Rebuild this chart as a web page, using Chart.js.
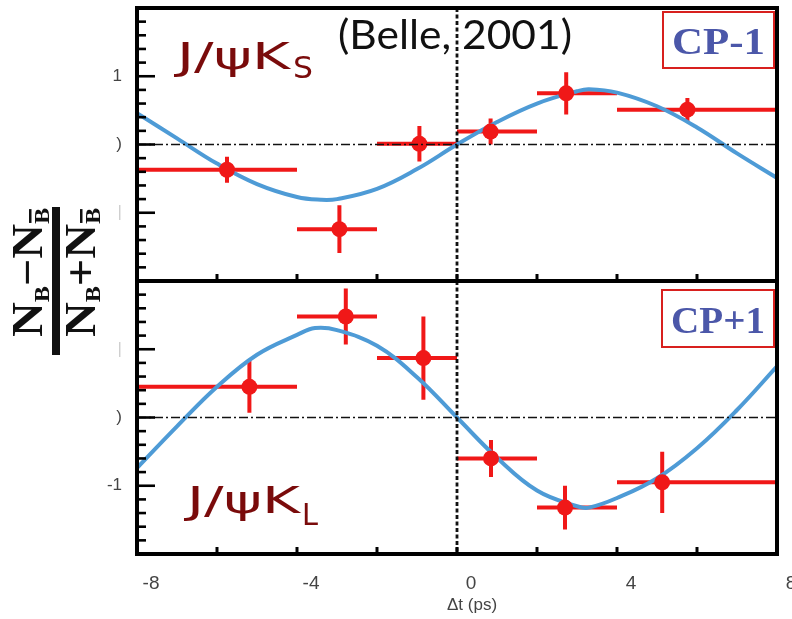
<!DOCTYPE html>
<html>
<head>
<meta charset="utf-8">
<title>Belle 2001 - CP asymmetry</title>
<script src="https://cdn.jsdelivr.net/npm/chart.js@4.4.1/dist/chart.umd.min.js"></script>
<style>
  html, body { margin: 0; padding: 0; background: #fff; }
  #chart { display: block; }
</style>
</head>
<body>
<canvas id="chart" width="792" height="619"></canvas>
<script>
// fitted curves (dt in ps)
var fitTimeTop = [-8, -7, -6, -5, -4, -3.4, -3, -2, -1, 0, 1, 2, 3, 3.3, 4, 5, 6, 7, 8];
var fitTop     = [0.46, 0.09, -0.28, -0.58, -0.77, -0.81, -0.80, -0.65, -0.36, 0, 0.33, 0.60, 0.78, 0.81, 0.76, 0.56, 0.25, -0.13, -0.49];
var fitTimeBot = [-8, -7, -6, -5, -4, -3.55, -3, -2, -1, 0, 1, 2, 3, 3.3, 4, 5, 6, 7, 8];
var fitBot     = [-0.74, -0.13, 0.45, 0.92, 1.21, 1.31, 1.28, 1.05, 0.59, 0, -0.59, -1.07, -1.30, -1.32, -1.18, -0.89, -0.45, 0.11, 0.75];

// bins (same for both panels)
var binLo = [-8, -4, -2, 0, 2, 4];
var binHi = [-4, -2, 0, 2, 4, 8];

// J/psi K_S  (CP-1)
var ksTime = [-5.75, -2.94, -0.94, 0.84, 2.73, 5.76];
var ksAsym = [-0.37, -1.24, 0.01, 0.19, 0.75, 0.51];
var ksErr  = [0.19, 0.35, 0.26, 0.19, 0.31, 0.17];

// J/psi K_L  (CP+1)
var klTime = [-5.19, -2.78, -0.84, 0.85, 2.70, 5.13];
var klAsym = [0.45, 1.48, 0.87, -0.60, -1.32, -0.95];
var klErr  = [0.38, 0.41, 0.61, 0.27, 0.32, 0.45];

// y tick labels (the scan cuts them off on the left)
var yTickVals   = [-1, 0, 1];
var topTickText = ['|', ')', '1'];
var botTickText = ['-1', ')', '|'];

var RED = '#f01818';
var BLUE = '#4e9bd6';

function pts(xs, ys) {
  return xs.map(function (v, i) { return { x: v, y: ys[i] }; });
}

function fitText(ctx, txt, font, left, base, width, color) {
  ctx.save();
  ctx.font = font;
  ctx.fillStyle = color;
  ctx.textBaseline = 'alphabetic';
  ctx.textAlign = 'left';
  var w = ctx.measureText(txt).width;
  ctx.translate(left, base);
  ctx.scale(width / w, 1);
  ctx.fillText(txt, 0, 0);
  ctx.restore();
}

// one row of the fraction: pieces laid out one after the other
function fracRow(ctx, parts, start, base, width) {
  var total = 0;
  parts.forEach(function (p) { ctx.font = p.f; p.w = ctx.measureText(p.t).width; total += p.w; });
  ctx.save();
  ctx.translate(start, base);
  ctx.scale(width / total, 1);
  var cx = 0;
  parts.forEach(function (p) {
    ctx.font = p.f;
    ctx.fillText(p.t, cx, p.dy || 0);
    if (p.over) ctx.fillRect(cx + 1, (p.dy || 0) - p.over, p.w - 2, 2.5);
    cx += p.w;
  });
  ctx.restore();
}

function errorBars(ctx, x, y, ts, as, es) {
  ts.forEach(function (t, i) {
    var py = y.getPixelForValue(as[i]);
    var px = x.getPixelForValue(t);
    ctx.beginPath();
    ctx.moveTo(x.getPixelForValue(binLo[i]), py);
    ctx.lineTo(x.getPixelForValue(binHi[i]), py);
    ctx.moveTo(px, y.getPixelForValue(as[i] + es[i]));
    ctx.lineTo(px, y.getPixelForValue(as[i] - es[i]));
    ctx.stroke();
  });
}

function cpBox(ctx, txt, l, t, r, b) {
  ctx.save();
  ctx.strokeStyle = '#d8201e';
  ctx.lineWidth = 2;
  ctx.strokeRect(l, t, r - l, b - t);
  ctx.restore();
  fitText(ctx, txt, 'bold 38px "Liberation Serif"', l + 9, b - 14, r - l - 18, '#4b57a9');
}

var panelPlugin = {
  id: 'panels',
  beforeDatasetsDraw: function (chart) {
    var ctx = chart.ctx, x = chart.scales.x;
    ctx.save();
    ctx.beginPath();
    ctx.rect(x.left - 6, chart.chartArea.top, x.right - x.left + 6, chart.chartArea.bottom - chart.chartArea.top);
    ctx.clip();
    ctx.strokeStyle = RED;
    ctx.lineWidth = 4;
    errorBars(ctx, x, chart.scales.yTop, ksTime, ksAsym, ksErr);
    errorBars(ctx, x, chart.scales.yBot, klTime, klAsym, klErr);
    ctx.restore();
  },
  afterDatasetsDraw: function (chart) {
    var ctx = chart.ctx, x = chart.scales.x;
    var yT = chart.scales.yTop, yB = chart.scales.yBot;
    ctx.save();
    ctx.strokeStyle = '#111';
    // dash-dot zero lines
    ctx.lineWidth = 1.6;
    ctx.setLineDash([9, 3, 2, 3]);
    [yT, yB].forEach(function (y) {
      var py = y.getPixelForValue(0);
      ctx.beginPath();
      ctx.moveTo(x.left, py);
      ctx.lineTo(x.right, py);
      ctx.stroke();
    });
    // dotted line at dt = 0
    ctx.lineWidth = 2.8;
    ctx.setLineDash([4, 2.5]);
    var px = x.getPixelForValue(0);
    ctx.beginPath();
    ctx.moveTo(px, yT.top);
    ctx.lineTo(px, yB.bottom);
    ctx.stroke();
    ctx.restore();
  },
  afterDraw: function (chart) {
    var ctx = chart.ctx, x = chart.scales.x;
    var yT = chart.scales.yTop, yB = chart.scales.yBot;
    ctx.save();
    ctx.strokeStyle = '#000';
    [yT, yB].forEach(function (y) {
      // frame
      ctx.lineWidth = 4;
      ctx.strokeRect(x.left, y.top, x.right - x.left, y.bottom - y.top);
      // y ticks, minor every 0.2
      ctx.lineWidth = 2.6;
      for (var k = -9; k <= 9; k++) {
        var py = y.getPixelForValue(k / 5);
        ctx.beginPath();
        ctx.moveTo(x.left, py);
        ctx.lineTo(x.left + (k % 5 === 0 ? 18 : 9), py);
        ctx.stroke();
      }
      // x ticks on the bottom edge
      ctx.lineWidth = 3;
      for (var v = -6; v <= 6; v += 2) {
        var px = x.getPixelForValue(v);
        ctx.beginPath();
        ctx.moveTo(px, y.bottom);
        ctx.lineTo(px, y.bottom - 7);
        ctx.stroke();
      }
    });
    ctx.restore();

    // panel texts
    fitText(ctx, '(Belle, 2001)', '41px Lato', 338, 49, 234, '#111');
    fitText(ctx, 'J/\u03c8K', '37px "DejaVu Sans"', 177, 69, 113, '#7a0b0b');
    fitText(ctx, 'S', '30px "DejaVu Sans"', 293, 78, 20, '#7a0b0b');
    fitText(ctx, 'J/\u03c8K', '37px "DejaVu Sans"', 187, 513, 113, '#7a0b0b');
    fitText(ctx, 'L', '30px "DejaVu Sans"', 302, 525, 16, '#7a0b0b');
    cpBox(ctx, 'CP-1', 663, 12, 774, 68);
    cpBox(ctx, 'CP+1', 662, 290, 774, 347);

    // x axis title
    ctx.save();
    ctx.fillStyle = '#444';
    ctx.font = '17px "Liberation Sans"';
    ctx.textAlign = 'center';
    ctx.textBaseline = 'middle';
    ctx.fillText('\u0394t (ps)', 472, 605);
    ctx.restore();

    // y axis title: (N_B - N_Bbar) / (N_B + N_Bbar), rotated
    ctx.save();
    ctx.translate(56, 281);
    ctx.rotate(-Math.PI / 2);
    ctx.fillStyle = '#111';
    ctx.fillRect(-74, -4, 148, 8);
    var big = 'bold 44px "Liberation Serif"', sub = 'bold 22px "Liberation Serif"';
    fracRow(ctx, [
      { t: 'N', f: big }, { t: 'B', f: sub, dy: 7 }, { t: '\u2212', f: big },
      { t: 'N', f: big }, { t: 'B', f: sub, dy: 7, over: 20 }
    ], -56, -14, 129);
    fracRow(ctx, [
      { t: 'N', f: big }, { t: 'B', f: sub, dy: 5 }, { t: '+', f: big },
      { t: 'N', f: big }, { t: 'B', f: sub, dy: 5, over: 20 }
    ], -56, 39, 129);
    ctx.restore();
  }
};

function yScale(texts, faintVal) {
  return {
    type: 'linear',
    position: 'left',
    stack: 'panels',
    stackWeight: 1,
    min: -2,
    max: 2,
    grid: { display: false, drawTicks: false },
    border: { display: false },
    ticks: {
      stepSize: 1,
      padding: 15,
      font: { family: 'Liberation Sans', size: 17 },
      color: function (c) { return c.tick && c.tick.value === faintVal ? '#cfcfcf' : '#444'; },
      callback: function (v) {
        var i = yTickVals.indexOf(v);
        return i < 0 ? '' : texts[i];
      }
    },
    afterFit: function (s) { s.width = 137; s.paddingTop = 0; s.paddingBottom = 0; }
  };
}

var chart = new Chart(document.getElementById('chart'), {
  type: 'scatter',
  data: {
    datasets: [
      { label: 'fit CP-1', type: 'line', data: pts(fitTimeTop, fitTop), yAxisID: 'yTop',
        borderColor: BLUE, borderWidth: 4, pointRadius: 0, tension: 0.4, fill: false, order: 2 },
      { label: 'fit CP+1', type: 'line', data: pts(fitTimeBot, fitBot), yAxisID: 'yBot',
        borderColor: BLUE, borderWidth: 4, pointRadius: 0, tension: 0.4, fill: false, order: 2 },
      { label: 'J/psi K_S', data: pts(ksTime, ksAsym), yAxisID: 'yTop',
        backgroundColor: RED, pointRadius: 8, pointBorderWidth: 0, order: 1 },
      { label: 'J/psi K_L', data: pts(klTime, klAsym), yAxisID: 'yBot',
        backgroundColor: RED, pointRadius: 8, pointBorderWidth: 0, order: 1 }
    ]
  },
  options: {
    responsive: false,
    animation: false,
    layout: { padding: { top: 6, right: 15, bottom: 0, left: 0 } },
    plugins: { legend: { display: false }, tooltip: { enabled: false } },
    scales: {
      x: {
        type: 'linear',
        min: -8,
        max: 8,
        grid: { display: false, drawTicks: false },
        border: { display: false },
        ticks: { stepSize: 4, padding: 18, labelOffset: 14, color: '#444',
                 font: { family: 'Liberation Sans', size: 19 } },
        afterFit: function (s) { s.height = 65; s.paddingLeft = 0; s.paddingRight = 0; }
      },
      // in a left stack the scale listed last sits on top
      yBot: yScale(botTickText, 1),
      yTop: yScale(topTickText, -1)
    }
  },
  plugins: [panelPlugin]
});
</script>
</body>
</html>
